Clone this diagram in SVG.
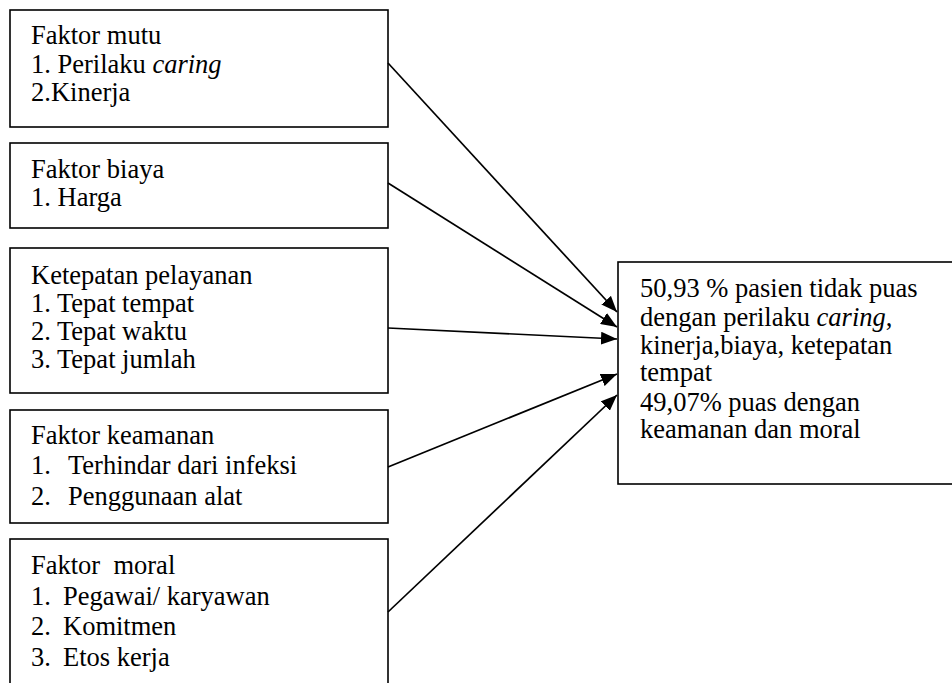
<svg xmlns="http://www.w3.org/2000/svg" width="952" height="683" viewBox="0 0 952 683">
<defs>
<style>
.box{fill:#fff;stroke:#000;stroke-width:1.6}
text{font-family:'Liberation Serif','Times New Roman',serif;fill:#000;font-size:26.5px}
.conn{stroke:#000;stroke-width:1.7;fill:none;marker-end:url(#ah)}
</style>
<marker id="ah" markerUnits="userSpaceOnUse" markerWidth="16" markerHeight="13" refX="16" refY="6.5" orient="auto">
<path d="M0,0 L16,6.5 L0,13 Z" fill="#000"/>
</marker>
</defs>
<rect width="952" height="683" fill="#fff"/>
<g id="mutu">
<rect class="box" x="10" y="10" width="378" height="117"/>
<text x="31" y="44">Faktor mutu</text>
<text x="31" y="73">1. Perilaku <tspan font-style="italic">caring</tspan></text>
<text x="31" y="101">2.Kinerja</text>
</g>
<g id="biaya">
<rect class="box" x="10" y="143" width="378" height="85"/>
<text x="31" y="178">Faktor biaya</text>
<text x="31" y="206">1. Harga</text>
</g>
<g id="ketepatan">
<rect class="box" x="10" y="248" width="378" height="145"/>
<text x="31" y="284">Ketepatan pelayanan</text>
<text x="31" y="312">1. Tepat tempat</text>
<text x="31" y="340">2. Tepat waktu</text>
<text x="31" y="368">3. Tepat jumlah</text>
</g>
<g id="keamanan">
<rect class="box" x="10" y="410" width="378" height="113"/>
<text x="31" y="444">Faktor keamanan</text>
<text x="31" y="474">1.</text><text x="68" y="474">Terhindar dari infeksi</text>
<text x="31" y="505">2.</text><text x="68" y="505">Penggunaan alat</text>
</g>
<g id="moral">
<rect class="box" x="10" y="539" width="378" height="160"/>
<text x="31" y="574" xml:space="preserve">Faktor  moral</text>
<text x="31" y="605">1.</text><text x="63" y="605">Pegawai/ karyawan</text>
<text x="31" y="635">2.</text><text x="63" y="635">Komitmen</text>
<text x="31" y="666">3.</text><text x="63" y="666">Etos kerja</text>
</g>
<g id="hasil">
<rect class="box" x="618" y="262" width="345" height="222"/>
<text x="640" y="297">50,93 % pasien tidak puas</text>
<text x="640" y="326">dengan perilaku <tspan font-style="italic">caring</tspan>,</text>
<text x="640" y="354">kinerja,biaya, ketepatan</text>
<text x="640" y="381">tempat</text>
<text x="640" y="411">49,07% puas dengan</text>
<text x="640" y="438">keamanan dan moral</text>
</g>
<g id="connectors">
<line class="conn" x1="388" y1="63" x2="617" y2="312"/>
<line class="conn" x1="388" y1="183" x2="617" y2="327"/>
<line class="conn" x1="388" y1="328" x2="617" y2="339"/>
<line class="conn" x1="388" y1="467" x2="617" y2="374"/>
<line class="conn" x1="388" y1="612" x2="617" y2="395"/>
</g>
</svg>
